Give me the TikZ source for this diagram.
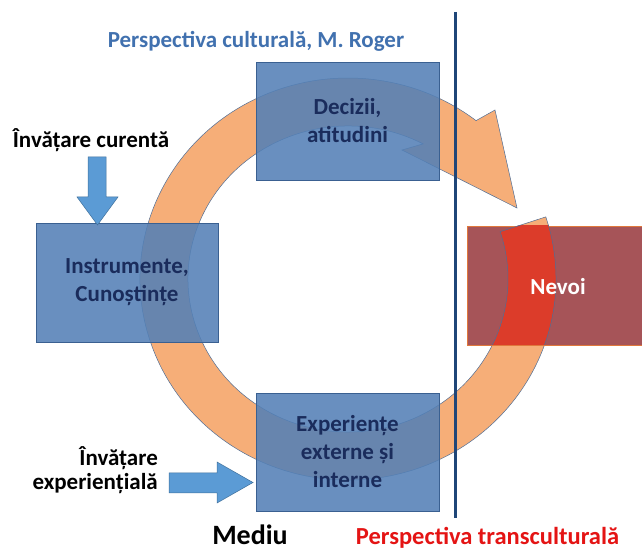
\documentclass[tikz,border=0pt]{standalone}
\usepackage{fontspec}
\setmainfont{Carlito}
\definecolor{ringorange}{RGB}{246,174,120}
\definecolor{ringline}{RGB}{80,110,150}
\definecolor{ringred}{RGB}{220,60,42}
\definecolor{boxblue}{RGB}{84,128,182}
\definecolor{boxline}{RGB}{58,96,145}
\definecolor{navy}{RGB}{26,44,92}
\definecolor{arrowblue}{RGB}{91,155,213}
\definecolor{arrowline}{RGB}{65,113,156}
\definecolor{nevoired}{RGB}{166,84,88}
\definecolor{nevoiline}{RGB}{224,120,60}
\definecolor{titleblue}{RGB}{65,113,175}
\definecolor{vlinecol}{RGB}{31,70,120}
\definecolor{transred}{RGB}{228,20,20}
\begin{document}
\begin{tikzpicture}[x=1pt,y=1pt,
  box/.style={draw=boxline, line width=0.6pt, fill=boxblue, fill opacity=0.88, text opacity=1,
    text=navy, font=\bfseries\fontsize{23}{28}\selectfont, align=center, inner sep=0pt,
    minimum width=183pt, minimum height=118pt},
  ring/.style={fill=ringorange, draw=ringline, line width=0.5pt},
  bluearrow/.style={fill=arrowblue, draw=arrowline, line width=0.5pt},
  lbl/.style={font=\bfseries\fontsize{23}{24}\selectfont, inner sep=0pt}]
\useasboundingbox (0,0) rectangle (642,551);
% circular arrow
\path[ring] (545.8,334.1) arc[start angle=18, end angle=-308, x radius=208, y radius=201]
  -- (495,441) -- (517,343) -- (402,401) -- (423.1,407.1)
  arc[start angle=62, end angle=378, x radius=160, y radius=153] -- cycle;
% Nevoi box
\node[draw=nevoiline, line width=0.6pt, fill=nevoired, minimum width=182pt, minimum height=119pt, inner sep=0pt] (nevoibox) at (558,265.5) {};
\begin{scope}
\clip (467,206) rectangle (649,325);
\path[fill=ringred, draw=ringline, line width=0.5pt] (545.8,334.1) arc[start angle=18, end angle=-308, x radius=208, y radius=201]
  -- (495,441) -- (517,343) -- (402,401) -- (423.1,407.1)
  arc[start angle=62, end angle=378, x radius=160, y radius=153] -- cycle;
\end{scope}
\node[text=white, font=\bfseries\fontsize{23}{28}\selectfont] (nevoi) at (558,264) {Nevoi};
% blue boxes
\node[box] (decizii) at (347.5,430) {Decizii,\\atitudini};
\node[box, minimum width=182pt, minimum height=119pt] (instr) at (127,268.5) {Instrumente,\\Cunoștințe};
\node[box] (exper) at (347.5,99) {Experiențe\\externe și\\interne};
% vertical line
\coordinate (vtop) at (455.5,539);
\coordinate (vbot) at (455.5,33);
\draw[vlinecol, line width=2.6pt] (vtop) -- (vbot);
% input arrows
\path[bluearrow] (88,394) -- (106,394) -- (106,354) -- (118,354) -- (97.5,326) -- (77,354) -- (88,354) -- cycle;
\path[bluearrow] (169,78) -- (217,78) -- (217,89) -- (253,68.5) -- (217,48) -- (217,58) -- (169,58) -- cycle;
% labels
\node[lbl, text=titleblue, anchor=base] (title) at (256,503) {Perspectiva culturală, M. Roger};
\node[lbl] (curenta) at (91,411) {Învățare curentă};
\node[lbl, align=right, anchor=east, font=\bfseries\fontsize{23}{24}\selectfont] (exp) at (158,81) {Învățare\\experiențială};
\node[font=\bfseries\fontsize{28}{30}\selectfont, inner sep=0pt, anchor=base] (mediu) at (250,6.5) {Mediu};
\node[lbl, text=transred, anchor=base, font=\bfseries\fontsize{24.5}{26}\selectfont] (trans) at (487.5,6.5) {Perspectiva transculturală};
\end{tikzpicture}
\end{document}
